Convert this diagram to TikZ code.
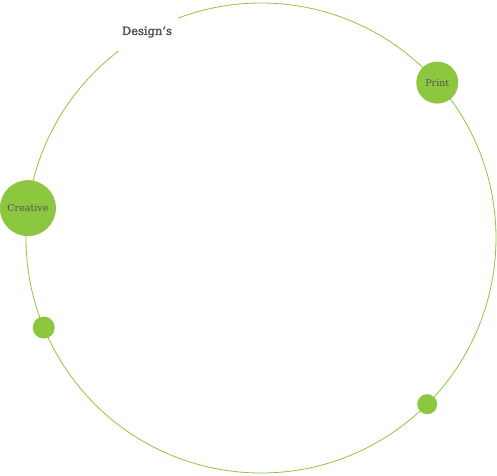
\documentclass[tikz,border=0pt]{standalone}
\usepackage{fontspec}
\setmainfont{DejaVu Serif}
\definecolor{leaf}{HTML}{8DC63F}
\definecolor{ink}{HTML}{555555}
\tikzset{
  ring/.style={draw=leaf, line width=0.8pt},
  bigdot/.style={circle, fill=leaf, inner sep=0pt, text=ink, font=\fontsize{9.5}{11}\selectfont},
  title/.style={text=ink, font=\fontsize{11.5}{13}\selectfont\addfontfeatures{FakeBold=2.5}}
}
\begin{document}
\begin{tikzpicture}[x=1pt,y=1pt]
\useasboundingbox (0,0) rectangle (497,475);
\coordinate (c) at (261,237);
\draw[ring] ([shift={(127.3:235)}]c) arc[start angle=127.3, end angle=470.7, radius=235];
\node[title] (design) at (147,443) {Design's};
\node[bigdot, minimum size=42pt] (print) at ([shift={(41.4:235)}]c) {Print};
\node[bigdot, minimum size=56pt] (creative) at ([shift={(172.7:235)}]c) {Creative};
\node[bigdot, minimum size=22pt] (dotA) at ([shift={(202.4:235)}]c) {};
\node[bigdot, minimum size=20pt] (dotB) at ([shift={(-45:235)}]c) {};
\end{tikzpicture}
\end{document}
